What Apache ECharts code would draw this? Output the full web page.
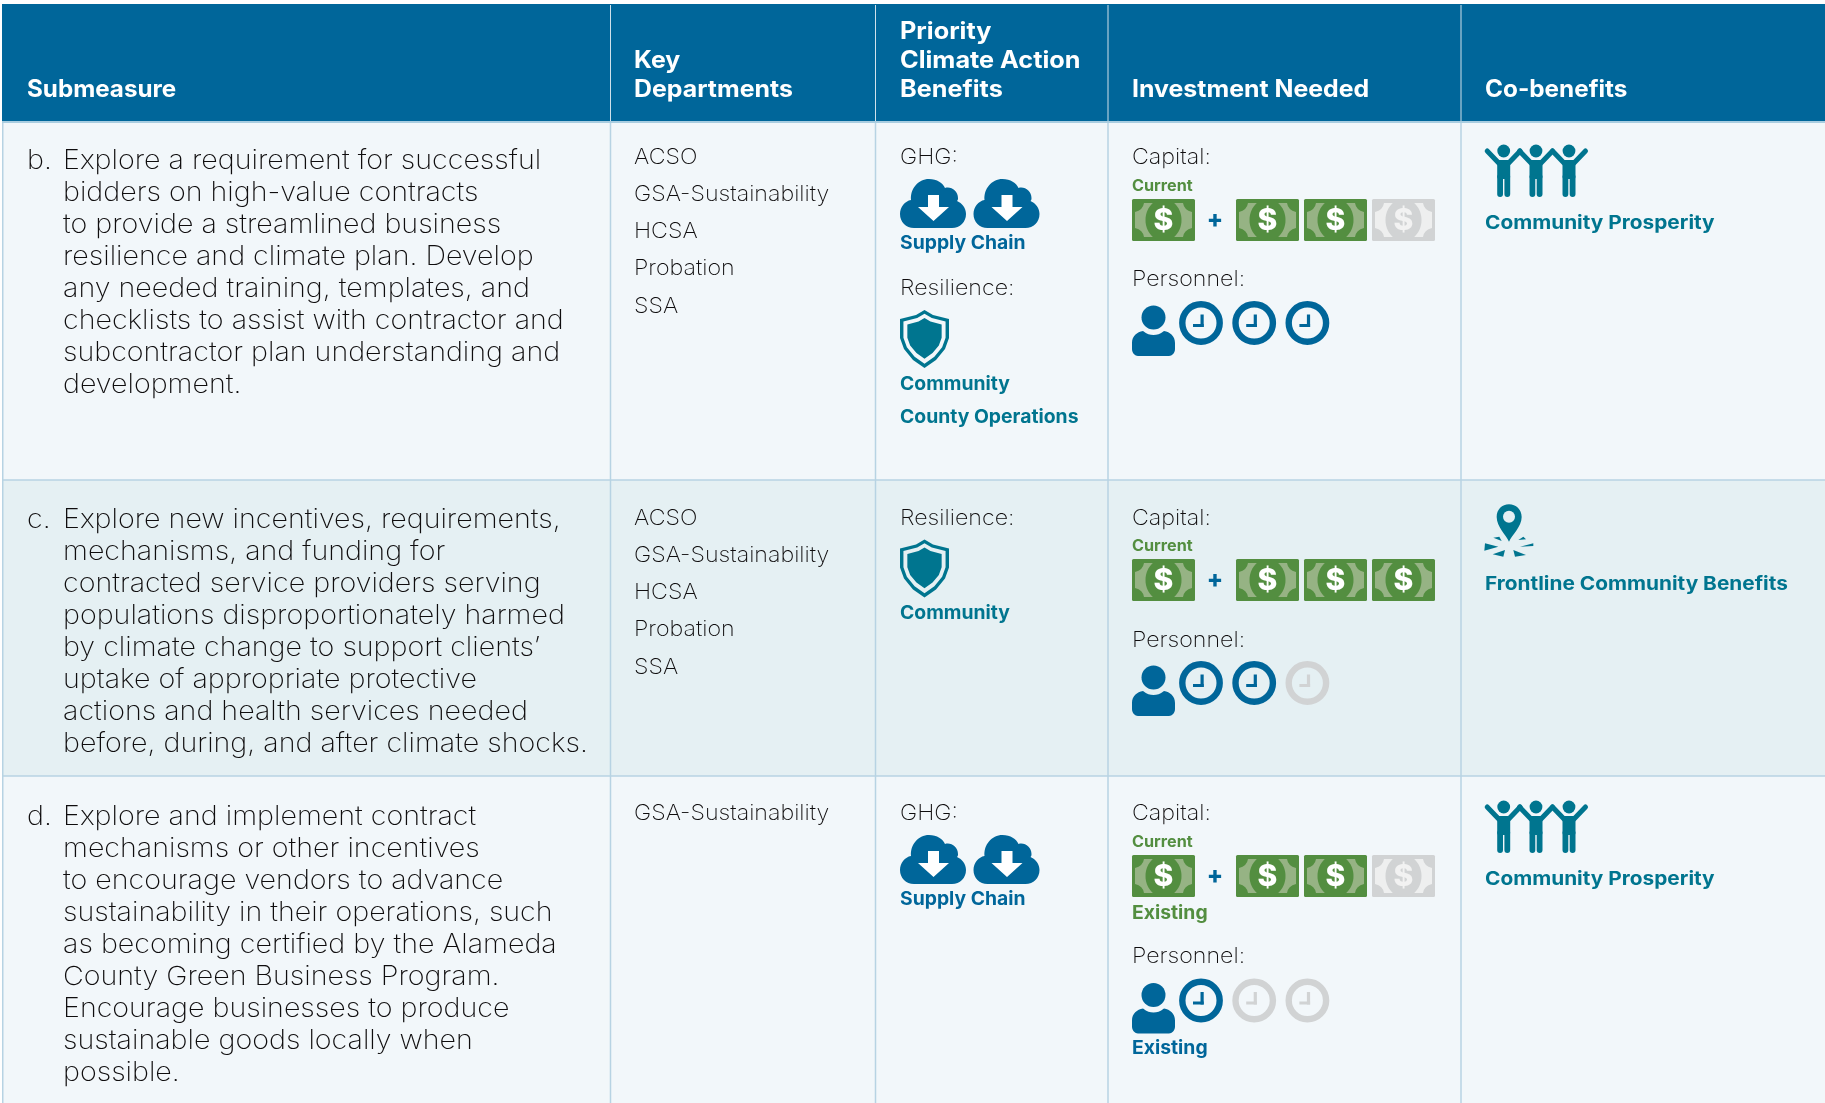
<!DOCTYPE html>
<html>
<head>
<meta charset="utf-8">
<title>Submeasures</title>
<script src="https://cdn.jsdelivr.net/npm/echarts@6/dist/echarts.min.js"></script>
<style>
  html, body { margin: 0; padding: 0; background: #fff; }
  #chart { width: 1825px; height: 1103px; }
</style>
</head>
<body>
<div id="chart"></div>
<script>
const headers = [
  ["Submeasure"],
  ["Key", "Departments"],
  ["Priority", "Climate Action", "Benefits"],
  ["Investment Needed"],
  ["Co-benefits"],
];
const rowLetters = ["b.", "c.", "d."];
const submeasures = [
  [
    "Explore a requirement for successful",
    "bidders on high-value contracts",
    "to provide a streamlined business",
    "resilience and climate plan. Develop",
    "any needed training, templates, and",
    "checklists to assist with contractor and",
    "subcontractor plan understanding and",
    "development.",
  ],
  [
    "Explore new incentives, requirements,",
    "mechanisms, and funding for",
    "contracted service providers serving",
    "populations disproportionately harmed",
    "by climate change to support clients’",
    "uptake of appropriate protective",
    "actions and health services needed",
    "before, during, and after climate shocks.",
  ],
  [
    "Explore and implement contract",
    "mechanisms or other incentives",
    "to encourage vendors to advance",
    "sustainability in their operations, such",
    "as becoming certified by the Alameda",
    "County Green Business Program.",
    "Encourage businesses to produce",
    "sustainable goods locally when",
    "possible.",
  ],
];
const departments = [
  ["ACSO", "GSA-Sustainability", "HCSA", "Probation", "SSA"],
  ["ACSO", "GSA-Sustainability", "HCSA", "Probation", "SSA"],
  ["GSA-Sustainability"],
];
const benefitLabels = [["GHG:", "Resilience:"], ["Resilience:"], ["GHG:"]];
const benefitIcons = [["cloud", "shield"], ["shield"], ["cloud"]];
const benefitIconCounts = [[2, 1], [1], [2]];
const benefitNames = [
  [["Supply Chain"], ["Community", "County Operations"]],
  [["Community"]],
  [["Supply Chain"]],
];
const capitalFilled = [2, 3, 2]; // out of capitalTotal, after the "Current" bill
const capitalTotal = 3;
const personnelFilled = [3, 2, 1]; // out of personnelTotal
const personnelTotal = 3;
const existingFunds = [false, false, true];
const coBenefits = ["Community Prosperity", "Frontline Community Benefits", "Community Prosperity"];
const coBenefitIcons = ["people", "pin", "people"];

const BLUE = "#00669a", TEAL = "#00758f", GREEN = "#538e40", GRAY = "#d1d3d4", INK = "#0f0d0e";
const LINE = "#b7d3e3";
const rowBg = ["#f2f7fa", "#e5f0f3", "#f2f7fa"];
const colX = [2, 610.5, 875.5, 1108, 1461, 1825];
const textX = [27, 634, 900, 1132, 1485];
const rowY = [121, 480, 776, 1103];
const rowOrigin = [157, 518, 813];
const firstLine = [161, 520, 817];
const iconNudge = [0, -1, 0];
const headStretch = [1.025, 1.055, 1.07, 1.055, 1.03];
const BODY = "200 26.5px Inter, sans-serif";
const HEAD = "700 23.6px Inter, sans-serif";
const LABEL = "200 21.6px Inter, sans-serif";
const NAME = "700 18.6px Inter, sans-serif";

const els = [];

function text(t, x, y, font, fill, sx, align) {
  return {
    type: "text",
    x: x,
    y: y,
    scaleX: sx || 1,
    style: { text: t, x: 0, y: 0, font: font, fill: fill, verticalAlign: "middle", align: align || "left" },
  };
}
function rect(x, y, w, h, fill, r) {
  return { type: "rect", shape: { x: x, y: y, width: w, height: h, r: r || 0 }, style: { fill: fill } };
}
// x, y, w, h are the bounds of the path itself
function path(d, fill, x, y, w, h) {
  return { type: "path", shape: { pathData: d, x: x, y: y, width: w, height: h, layout: "cover" }, style: { fill: fill } };
}
function poly(points, fill) {
  return { type: "polygon", shape: { points: points }, style: { fill: fill } };
}
function circle(cx, cy, r, fill) {
  return { type: "circle", shape: { cx: cx, cy: cy, r: r }, style: { fill: fill } };
}
function seg(x1, y1, x2, y2, color, w) {
  return {
    type: "line",
    shape: { x1: x1, y1: y1, x2: x2, y2: y2 },
    style: { stroke: color, lineWidth: w, lineCap: "round" },
  };
}

function cloud(x, y) {
  return {
    type: "group", x: x, y: y,
    children: [
      path("M14 49 C6 49 0 43 0 35 C0 28 5 22 11 21 C10 10 18 0 29 0 C37 0 43 4 45 9 C51 7 58 12 58 19 C58 20 58 21 57 22 C62 24 66 29 66 35 C66 43 60 49 52 49 Z", BLUE, 0, 0, 66, 49),
      poly([[28, 16], [39, 16], [39, 28], [49, 28], [33.5, 42], [18, 28], [28, 28]], "#fff"),
    ],
  };
}
function shield(x, y, bg) {
  const outer = [
    [24.5, 0], [33, 5], [49, 9], [49, 28], [45, 39], [36, 50], [24.5, 58],
    [13, 50], [4, 39], [0, 28], [0, 9], [16, 5],
  ];
  const scaled = (k) => outer.map((p) => [24.5 + (p[0] - 24.5) * k, 27 + (p[1] - 27) * k]);
  return {
    type: "group", x: x, y: y,
    children: [poly(outer, TEAL), poly(scaled(0.86), bg), poly(scaled(0.7), TEAL)],
  };
}
function bill(x, y, on) {
  const dark = on ? GREEN : GRAY;
  const light = on ? "#96b384" : "#eeefef";
  return {
    type: "group", x: x, y: y,
    children: [
      rect(0, 0, 63, 42, dark, 1.5),
      path("M12 4 L51 4 Q52 11 60 13 L60 29 Q52 31 51 38 L12 38 Q11 31 3 29 L3 13 Q11 11 12 4 Z", light, 3, 4, 57, 34),
      { type: "ellipse", shape: { cx: 31.5, cy: 21, rx: 18, ry: 21 }, style: { fill: dark } },
      text("$", 31.5, 22, "800 30px Inter, sans-serif", on ? "#fff" : "#f2f2f2", 1, "center"),
    ],
  };
}
function person(x, y) {
  return {
    type: "group", x: x, y: y,
    children: [
      circle(21.5, 12.5, 12, BLUE),
      path("M0 44 L0 38 C0 31 5 27 11 26 C15 29 18 30 21.5 30 C25 30 28 29 32 26 C38 27 43 31 43 38 L43 44 C43 48 40 51 37 51 L6 51 C3 51 0 48 0 44 Z", BLUE, 0, 26, 43, 25),
    ],
  };
}
function clock(cx, cy, on) {
  const c = on ? BLUE : GRAY;
  return {
    type: "group", x: cx, y: cy,
    children: [
      { type: "circle", shape: { cx: 0, cy: 0, r: 18.7 }, style: { fill: "none", stroke: c, lineWidth: 6.4 } },
      rect(-0.5, -8.5, 3.2, 12.5, c),
      rect(-8, 1, 10.7, 3, c),
    ],
  };
}
function people(x, y) {
  const fig = (cx) => [
    circle(cx, 7, 6.4, TEAL),
    seg(cx - 16.5, 7, cx - 5, 19, TEAL, 5),
    seg(cx + 16.5, 7, cx + 5, 19, TEAL, 5),
    rect(cx - 6.5, 16, 13, 19, TEAL, 2),
    rect(cx - 6.5, 30, 5.8, 23, TEAL, 2.9),
    rect(cx + 0.7, 30, 5.8, 23, TEAL, 2.9),
  ];
  return {
    type: "group", x: x, y: y,
    children: [].concat(fig(18.7), fig(51), fig(84)),
  };
}
function pin(x, y) {
  // drawn in a 120x70 box at 3x, scaled down
  const rays = [
    [[70, 128], [88, 125], [95, 138]],
    [[45, 145], [85, 155], [43, 167]],
    [[68, 178], [105, 165], [100, 185]],
    [[130, 165], [168, 180], [135, 185]],
    [[150, 155], [190, 145], [190, 153]],
    [[145, 135], [160, 125], [168, 133]],
  ];
  return {
    type: "group", x: x, y: y, scaleX: 1 / 3, scaleY: 1 / 3,
    children: [
      path("M117 140 C108 120 80 95 80 66 C80 44 96 28 117 28 C138 28 155 44 155 66 C155 95 126 120 117 140 Z", TEAL, 80, 28, 75, 112),
      circle(117, 65, 18, "#e5f0f3"),
    ].concat(rays.map((r) => poly(r, TEAL))),
  };
}

// backgrounds
els.push(rect(colX[0], 4, colX[5] - colX[0], rowY[0] - 4, BLUE));
rowBg.forEach((c, i) => els.push(rect(colX[0], rowY[i], colX[5] - colX[0], rowY[i + 1] - rowY[i], c)));

// rules
for (let i = 1; i < 5; i++) {
  els.push(rect(colX[i] - 0.5, 5, 1, rowY[0] - 5, "#cfe0ea"));
  els.push(rect(colX[i] - 0.75, rowY[0], 1.5, rowY[3] - rowY[0], LINE));
}
els.push(rect(colX[0], rowY[0], 1.5, rowY[3] - rowY[0], LINE));
els.push(rect(colX[0], rowY[0], colX[5], 2, "#a9cde0"));
[rowY[1], rowY[2]].forEach((y) => els.push(rect(colX[0], y - 0.75, colX[5], 1.5, LINE)));

// header
headers.forEach((lines, c) => {
  lines.forEach((t, i) => {
    els.push(text(t, textX[c], 90 - (lines.length - 1 - i) * 29, HEAD, "#fff", headStretch[c]));
  });
});

rowLetters.forEach((letter, r) => {
  const o = rowOrigin[r];

  // submeasure
  els.push(text(letter, textX[0], firstLine[r], BODY, INK, 1.08));
  submeasures[r].forEach((t, i) => els.push(text(t, 63, firstLine[r] + i * 32, BODY, INK, 1.08)));

  // departments
  departments[r].forEach((t, i) => els.push(text(t, textX[1], o + i * 37.3, LABEL, INK, 1.075)));

  // priority climate action benefits
  let y = o;
  benefitLabels[r].forEach((t, g) => {
    const kind = benefitIcons[r][g];
    const nameColor = kind === "cloud" ? BLUE : TEAL;
    els.push(text(t, textX[2], y, LABEL, INK, 1.075));
    for (let n = 0; n < benefitIconCounts[r][g]; n++) {
      if (kind === "cloud") els.push(cloud(textX[2] + n * 73.5, y + 22));
      else els.push(shield(textX[2], y + 21.5, rowBg[r]));
    }
    const ny = y + (kind === "cloud" ? 86 : 95.5);
    benefitNames[r][g].forEach((name, i) => {
      els.push(text(name, textX[2], ny + i * 33.5, NAME, nameColor, 1.04));
    });
    y += 131.5;
  });

  // investment needed
  const x0 = textX[3];
  const shift = existingFunds[r] ? 21.5 : 0;
  const n0 = iconNudge[r];
  els.push(text("Capital:", x0, o, LABEL, INK, 1.075));
  els.push(text("Current", x0, o + 29 + n0, "700 15.6px Inter, sans-serif", GREEN, 1.04));
  els.push(bill(x0, o + 42 + n0, true));
  els.push(text("+", 1215, o + 63 + n0, "800 24px Inter, sans-serif", BLUE, 1, "center"));
  for (let n = 0; n < capitalTotal; n++) {
    els.push(bill(1236 + n * 68, o + 42 + n0, n < capitalFilled[r]));
  }
  if (existingFunds[r]) els.push(text("Existing", x0, o + 100.5, NAME, GREEN, 1.04));
  els.push(text("Personnel:", x0, o + 122 + shift, LABEL, INK, 1.075));
  els.push(person(x0, o + 148 + shift + n0));
  for (let n = 0; n < personnelTotal; n++) {
    els.push(clock(1201 + n * 53.2, o + 166 + shift + n0, n < personnelFilled[r]));
  }
  if (existingFunds[r]) els.push(text("Existing", x0, o + 235.5, NAME, BLUE, 1.04));

  // co-benefits
  if (coBenefitIcons[r] === "people") els.push(people(textX[4], o - 13));
  else els.push(pin(1470, o - 23));
  els.push(text(coBenefits[r], textX[4], o + 66, NAME, TEAL, 1.12));
});

const chart = echarts.init(document.getElementById("chart"), null, { renderer: "canvas" });
chart.setOption({
  animation: false,
  backgroundColor: "#fff",
  series: [
    {
      type: "custom",
      coordinateSystem: "none",
      silent: true,
      data: [0],
      renderItem: () => ({ type: "group", children: els }),
    },
  ],
});
</script>
</body>
</html>
